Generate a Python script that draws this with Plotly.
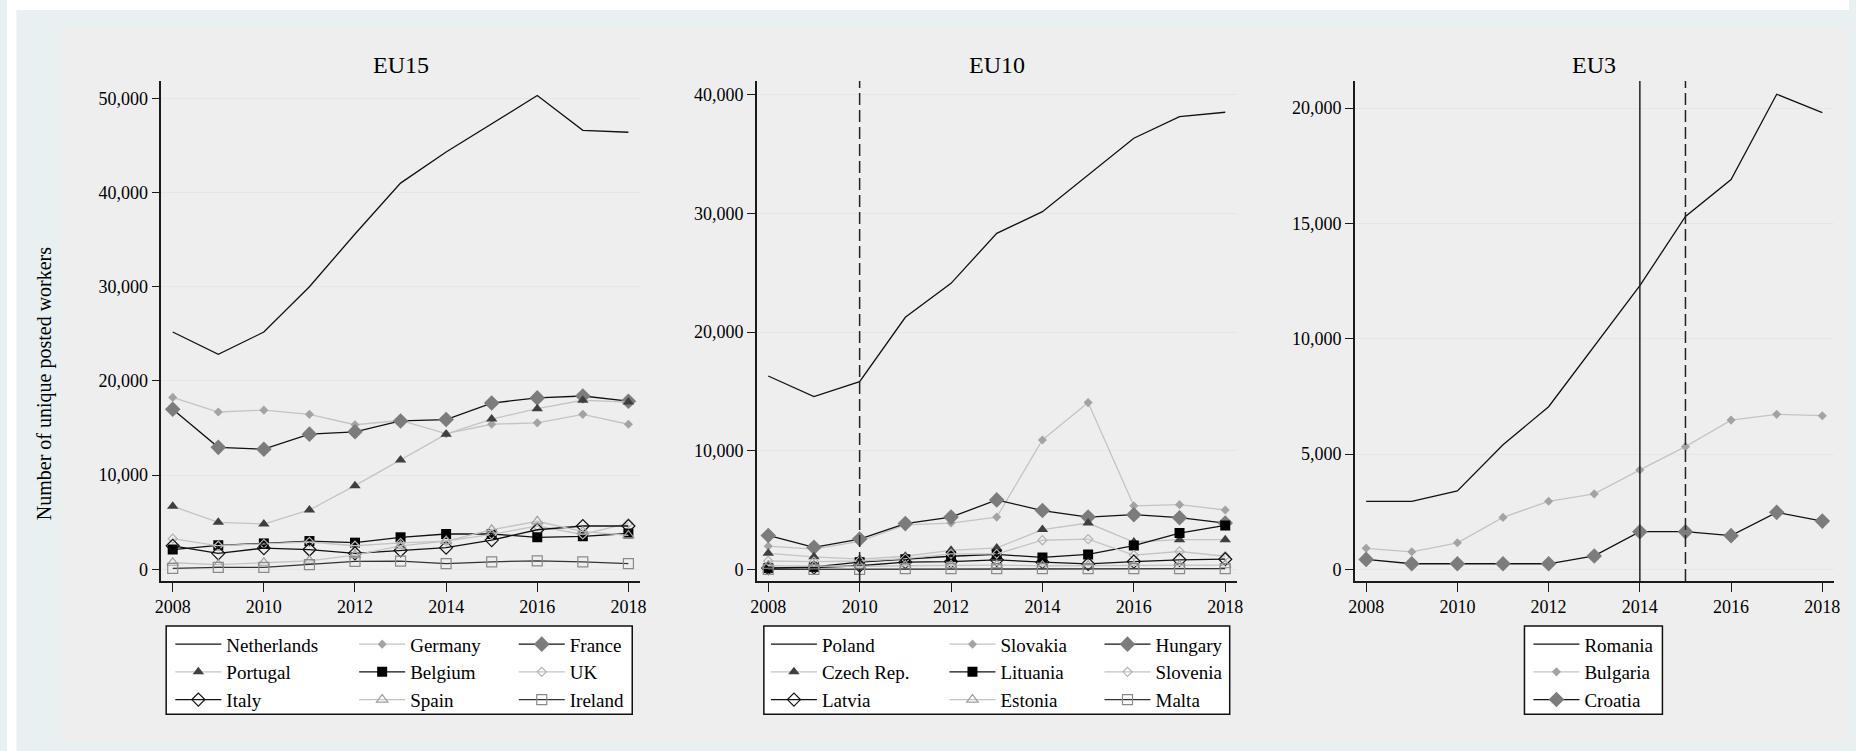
import plotly.graph_objects as go

W, H = 1856, 751
FONT = "Liberation Serif"

years = list(range(2008, 2019))

# ---- EU15 ----
netherlands = [25190, 22820, 25190, 30000, 35600, 41000, 44300, 47300, 50300, 46600, 46400]
germany = [18250, 16700, 16900, 16450, 15350, 15800, 14400, 15400, 15550, 16450, 15400]
france = [16990, 12950, 12750, 14350, 14600, 15750, 15900, 17650, 18200, 18400, 17850]
portugal = [6700, 4990, 4810, 6300, 8880, 11600, 14350, 15950, 17050, 17950, 17750]
belgium = [2100, 2550, 2750, 3000, 2830, 3400, 3750, 3750, 3400, 3500, 3800]
uk = [3250, 2500, 2700, 2900, 2500, 2800, 3000, 3700, 4600, 3700, 4900]
italy = [2500, 1700, 2250, 2100, 1700, 2000, 2300, 3100, 4200, 4600, 4600]
spain = [700, 500, 700, 900, 1500, 2500, 3000, 4200, 5100, 4000, 3600]
ireland = [100, 200, 200, 500, 850, 880, 600, 800, 900, 800, 600]

# ---- EU10 ----
poland = [16290, 14550, 15810, 21240, 24100, 28320, 30140, 33230, 36330, 38150, 38520]
slovakia = [1950, 1700, 2350, 3750, 3900, 4400, 10900, 14050, 5350, 5450, 5000]
hungary = [2850, 1850, 2550, 3850, 4400, 5850, 4950, 4400, 4600, 4350, 3900]
czech = [1350, 1050, 850, 1100, 1600, 1800, 3350, 3900, 2300, 2500, 2500]
lituania = [100, 200, 600, 850, 1100, 1250, 1000, 1250, 2000, 3050, 3700]
slovenia = [700, 650, 700, 900, 1300, 1300, 2450, 2550, 1200, 1500, 1100]
latvia = [100, 150, 300, 600, 650, 800, 600, 450, 650, 800, 850]
estonia = [300, 250, 250, 300, 350, 350, 300, 300, 300, 300, 350]
malta = [0, 0, 0, 50, 50, 50, 50, 50, 50, 50, 50]

# ---- EU3 ----
romania = [2950, 2950, 3400, 5400, 7050, 9700, 12300, 15300, 16900, 20600, 19800]
bulgaria = [910, 760, 1150, 2250, 2950, 3270, 4310, 5320, 6470, 6720, 6660]
croatia = [430, 240, 240, 240, 240, 580, 1630, 1630, 1460, 2470, 2090]

eu15_ticks = [0, 10000, 20000, 30000, 40000, 50000]
eu10_ticks = [0, 10000, 20000, 30000, 40000]
eu3_ticks = [0, 5000, 10000, 15000, 20000]
x_ticks = [2008, 2010, 2012, 2014, 2016, 2018]

LIGHT = "#c4c4c4"
STYLES = {
    "line":   dict(line=dict(color="#111111", width=1.3), mode="lines"),
    "sdiam":  dict(line=dict(color=LIGHT, width=1.3), mode="lines+markers",
                   marker=dict(symbol="diamond", size=7, color="#a3a3a3")),
    "bdiam":  dict(line=dict(color="#111111", width=1.3), mode="lines+markers",
                   marker=dict(symbol="diamond", size=12, color="#7c7c7c")),
    "ftri":   dict(line=dict(color=LIGHT, width=1.3), mode="lines+markers",
                   marker=dict(symbol="triangle-up", size=10, color="#3f3f3f")),
    "fsq":    dict(line=dict(color="#111111", width=1.3), mode="lines+markers",
                   marker=dict(symbol="square", size=10, color="#000000")),
    "osdiam": dict(line=dict(color=LIGHT, width=1.3), mode="lines+markers",
                   marker=dict(symbol="diamond-open", size=7, color="#b5b5b5",
                               line=dict(width=1.2))),
    "odiam":  dict(line=dict(color="#111111", width=1.3), mode="lines+markers",
                   marker=dict(symbol="diamond-open", size=10, color="#111111",
                               line=dict(width=1.2))),
    "otri":   dict(line=dict(color=LIGHT, width=1.3), mode="lines+markers",
                   marker=dict(symbol="triangle-up-open", size=10, color="#a0a0a0",
                               line=dict(width=1.2))),
    "osq":    dict(line=dict(color="#333333", width=1.3), mode="lines+markers",
                   marker=dict(symbol="square-open", size=10, color="#8a8a8a",
                               line=dict(width=1.2))),
}

# (name, values, style, legend id) per panel
panels = [
    ("x", "y", [
        ("Netherlands", netherlands, "line", "legend"),
        ("Germany", germany, "sdiam", "legend2"),
        ("France", france, "bdiam", "legend3"),
        ("Portugal", portugal, "ftri", "legend"),
        ("Belgium", belgium, "fsq", "legend2"),
        ("UK", uk, "osdiam", "legend3"),
        ("Italy", italy, "odiam", "legend"),
        ("Spain", spain, "otri", "legend2"),
        ("Ireland", ireland, "osq", "legend3"),
    ]),
    ("x2", "y2", [
        ("Poland", poland, "line", "legend4"),
        ("Slovakia", slovakia, "sdiam", "legend5"),
        ("Hungary", hungary, "bdiam", "legend6"),
        ("Czech Rep.", czech, "ftri", "legend4"),
        ("Lituania", lituania, "fsq", "legend5"),
        ("Slovenia", slovenia, "osdiam", "legend6"),
        ("Latvia", latvia, "odiam", "legend4"),
        ("Estonia", estonia, "otri", "legend5"),
        ("Malta", malta, "osq", "legend6"),
    ]),
    ("x3", "y3", [
        ("Romania", romania, "line", "legend7"),
        ("Bulgaria", bulgaria, "sdiam", "legend7"),
        ("Croatia", croatia, "bdiam", "legend7"),
    ]),
]

fig = go.Figure()
for xa, ya, series in panels:
    for name, vals, style, leg in series:
        st = STYLES[style]
        fig.add_trace(go.Scatter(x=years, y=vals, name=name, xaxis=xa, yaxis=ya,
                                 legend=leg, hoverinfo="skip", **st))


def px_x(v):
    return v / W


def px_y(v):
    return 1 - v / H


tick_font = dict(family=FONT, size=18, color="#000000")


def xaxis(dom):
    return dict(domain=dom, range=[2007.75, 2018.25], tickvals=x_ticks,
                showgrid=False, zeroline=False, showline=True, linecolor="#1a1a1a",
                linewidth=1.5, ticks="outside", ticklen=9, tickwidth=1.3,
                tickcolor="#1a1a1a", tickfont=tick_font)


def yaxis(anchor, rng, tv):
    return dict(domain=[px_y(581), px_y(81)], range=rng, tickvals=tv, tickformat=",",
                anchor=anchor, showgrid=True, gridcolor="#e6e6e6", gridwidth=1,
                zeroline=False, showline=True, linecolor="#1a1a1a", linewidth=1.5,
                ticks="outside", ticklen=8, tickwidth=1.3, tickcolor="#1a1a1a",
                tickfont=tick_font)


layout = dict(
    width=W, height=H, margin=dict(l=0, r=0, t=0, b=0),
    paper_bgcolor="#e8f0f2", plot_bgcolor="#ffffff",
    xaxis=dict(xaxis([px_x(155.5), px_x(637.6)]), anchor="y"),
    xaxis2=dict(xaxis([px_x(755.5), px_x(1239)]), anchor="y2"),
    xaxis3=dict(xaxis([px_x(1358), px_x(1840.6)]), anchor="y3"),
    yaxis=yaxis("x", [-1240, 51840], eu15_ticks),
    yaxis2=yaxis("x2", [-986, 41155], eu10_ticks),
    yaxis3=yaxis("x3", [-507, 21175], eu3_ticks),
)

# legend columns: left edge of each column (px)
legend_cols = {"legend": 164.6, "legend2": 349.8, "legend3": 510.6,
               "legend4": 764.7, "legend5": 944.6, "legend6": 1100.8,
               "legend7": 1533}
for key, xl in legend_cols.items():
    layout[key] = dict(x=px_x(xl), xanchor="left", y=px_y(672.3), yanchor="middle",
                       bgcolor="rgba(0,0,0,0)", borderwidth=0, itemwidth=46,
                       font=dict(family=FONT, size=19, color="#000000"),
                       tracegroupgap=0, itemclick=False, itemdoubleclick=False)

fig.update_layout(**layout)

shapes = [
    # white frame strips
    dict(type="rect", xref="paper", yref="paper", x0=0, x1=1, y0=px_y(10), y1=1,
         fillcolor="#ffffff", line=dict(width=0), layer="below"),
    dict(type="rect", xref="paper", yref="paper", x0=0, x1=px_x(9.5), y0=0, y1=1,
         fillcolor="#ffffff", line=dict(width=0), layer="below"),
    # graph region background
    dict(type="rect", xref="paper", yref="paper", x0=px_x(55), x1=1,
         y0=px_y(741), y1=px_y(28), fillcolor="#eeeeee", line=dict(width=0),
         layer="below"),
]
# legend frames
for x0, x1 in [(160.4, 630), (762.6, 1232), (1529, 1668)]:
    shapes.append(dict(type="rect", xref="paper", yref="paper", x0=px_x(x0), x1=px_x(x1),
                       y0=px_y(714.3), y1=px_y(626), fillcolor="#ffffff",
                       line=dict(color="#111111", width=1.5), layer="below"))
# reference years
shapes.append(dict(type="line", xref="x2", yref="y2 domain", x0=2010, x1=2010, y0=0, y1=1,
                   line=dict(color="#222222", width=1.5, dash="12px,5px")))
shapes.append(dict(type="line", xref="x3", yref="y3 domain", x0=2014, x1=2014, y0=0, y1=1,
                   line=dict(color="#222222", width=1.5)))
shapes.append(dict(type="line", xref="x3", yref="y3 domain", x0=2015, x1=2015, y0=0, y1=1,
                   line=dict(color="#222222", width=1.5, dash="12px,5px")))
fig.update_layout(shapes=shapes)

annotations = []
for txt, xa in [("EU15", "x"), ("EU10", "x2"), ("EU3", "x3")]:
    annotations.append(dict(text=txt, xref=f"{xa} domain", yref="paper", x=0.5, y=px_y(65),
                            xanchor="center", yanchor="middle", showarrow=False,
                            font=dict(family=FONT, size=24, color="#000000")))
annotations.append(dict(text="Number of unique posted workers", xref="paper", yref="paper",
                        x=px_x(38), y=px_y(383.5), textangle=-90, showarrow=False,
                        xanchor="center", yanchor="middle",
                        font=dict(family=FONT, size=20, color="#000000")))
fig.update_layout(annotations=annotations)

fig.write_html("out.html")
